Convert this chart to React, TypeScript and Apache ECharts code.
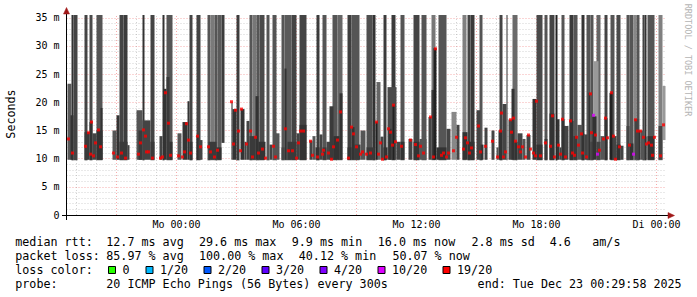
import React, { useEffect, useRef } from 'react';
import * as echarts from 'echarts';

// x values: minutes relative to Mo 00:00 (graph spans Sun 18:30 .. Tue 00:30)
const X_MIN = -330;
const X_MAX = 1470;
const Y_MAX = 35.5; // ms

const xLabelValues = [0, 360, 720, 1080, 1440];
const xLabelTexts = ['Mo 00:00', 'Mo 06:00', 'Mo 12:00', 'Mo 18:00', 'Di 00:00'];
const yLabelValues = [0, 5, 10, 15, 20, 25, 30, 35];
const yLabelTexts = ['0', '5 m', '10 m', '15 m', '20 m', '25 m', '30 m', '35 m'];

// smoke reaching the top of the graph: [start, end, low ms, shade]
const smokeTall: [number, number, number, string][] = [
  [-315, -309, 9.7, '#333333'], [-309, -297, 9.7, '#444444'], [-276, -267, 9.7, '#444444'],
  [-261, -252, 9.7, '#4a4a4a'], [-240, -222, 9.7, '#555555'], [-171, -159, 9.7, '#444444'],
  [-159, -147, 9.7, '#3c3c3c'], [-102, -96, 9.7, '#333333'], [-78, -66, 9.7, '#444444'],
  [-42, -36, 9.7, '#333333'], [-30, -12, 9.7, '#555555'], [39, 48, 9.7, '#444444'],
  [60, 72, 9.7, '#444444'], [93, 102, 9.7, '#555555'], [102, 114, 9.7, '#7a7a7a'],
  [114, 123, 9.7, '#555555'], [123, 135, 9.7, '#5a5a5a'], [135, 144, 12.8, '#3c3c3c'],
  [180, 189, 9.7, '#3c3c3c'], [219, 228, 9.7, '#555555'], [228, 240, 9.7, '#777777'],
  [240, 249, 9.7, '#555555'], [249, 264, 9.7, '#4a4a4a'], [270, 279, 9.7, '#555555'],
  [288, 300, 9.7, '#555555'], [315, 324, 9.7, '#555555'], [324, 345, 9.7, '#5a5a5a'],
  [345, 360, 9.7, '#444444'], [369, 390, 9.7, '#444444'], [420, 429, 9.7, '#3c3c3c'],
  [438, 450, 9.7, '#555555'], [468, 483, 9.7, '#555555'], [483, 498, 9.7, '#666666'],
  [513, 525, 9.7, '#3e3e3e'], [525, 549, 9.7, '#555555'], [570, 588, 9.7, '#505050'],
  [588, 597, 9.7, '#333333'], [621, 630, 9.7, '#3c3c3c'], [645, 657, 9.7, '#3a3a3a'],
  [672, 684, 9.7, '#555555'], [711, 729, 9.7, '#444444'], [735, 750, 9.7, '#555555'],
  [765, 777, 9.7, '#777777'], [786, 810, 9.7, '#555555'], [858, 870, 9.7, '#808080'],
  [873, 882, 9.7, '#444444'], [882, 894, 9.7, '#3a3a3a'], [909, 918, 9.7, '#555555'],
  [969, 978, 9.7, '#444444'], [990, 993, 9.7, '#333333'], [1008, 1023, 9.7, '#6a6a6a'],
  [1080, 1098, 9.7, '#4a4a4a'], [1104, 1113, 9.7, '#555555'], [1119, 1134, 9.7, '#444444'],
  [1137, 1143, 9.7, '#222222'], [1155, 1164, 9.7, '#555555'], [1179, 1191, 9.7, '#3a3a3a'],
  [1191, 1203, 9.7, '#555555'], [1215, 1224, 9.7, '#333333'], [1230, 1242, 9.7, '#555555'],
  [1242, 1251, 9.7, '#555555'], [1260, 1272, 9.7, '#666666'], [1284, 1293, 9.7, '#444444'],
  [1302, 1314, 9.7, '#555555'], [1320, 1332, 9.7, '#4a4a4a'], [1350, 1359, 9.7, '#555555'],
  [1359, 1371, 9.7, '#555555'], [1371, 1380, 9.7, '#888888'], [1380, 1389, 9.7, '#555555'],
  [1398, 1404, 9.7, '#444444'], [1404, 1410, 9.7, '#333333'], [1413, 1434, 9.7, '#555555'],
  [1446, 1458, 9.7, '#808080'],
];

// lower smoke: [start, end, low ms, high ms, shade]
const smokeLow: [number, number, number, number, string][] = [
  [-327, -315, 9.8, 23.3, '#5a5a5a'], [-318, -309, 9.8, 17.7, '#333333'], [-276, -261, 9.8, 14.7, '#3a3a3a'],
  [-261, -252, 9.8, 16.5, '#333333'], [-252, -240, 9.8, 14.5, '#444444'], [-240, -222, 9.8, 15.0, '#333333'],
  [-228, -222, 9.8, 19.0, '#333333'], [-192, -180, 9.8, 15.0, '#555555'], [-180, -171, 9.8, 17.7, '#333333'],
  [-171, -147, 9.8, 13.0, '#3a3a3a'], [-147, -141, 9.8, 12.4, '#444444'], [-120, -102, 9.8, 18.6, '#555555'],
  [-114, -102, 9.8, 15.0, '#3a3a3a'], [-102, -78, 9.8, 16.8, '#444444'], [-78, -66, 9.8, 13.0, '#3a3a3a'],
  [-51, -42, 9.8, 14.0, '#444444'], [-39, -30, 9.8, 22.4, '#333333'], [-30, -21, 9.8, 24.5, '#3a3a3a'],
  [-21, -12, 9.8, 13.0, '#333333'], [3, 15, 9.8, 14.5, '#555555'], [18, 33, 9.8, 16.5, '#333333'],
  [33, 39, 9.8, 20.2, '#333333'], [39, 48, 9.8, 13.0, '#333333'], [60, 66, 9.8, 14.0, '#333333'],
  [66, 78, 9.8, 13.3, '#444444'], [96, 120, 9.8, 13.0, '#3a3a3a'], [120, 135, 9.8, 12.0, '#333333'],
  [165, 168, 9.8, 20.0, '#222222'], [168, 180, 9.8, 18.8, '#333333'], [192, 204, 9.8, 18.8, '#333333'],
  [204, 210, 9.8, 13.0, '#444444'], [210, 219, 9.8, 16.7, '#444444'], [219, 237, 9.8, 14.0, '#3a3a3a'],
  [237, 246, 9.8, 21.1, '#333333'], [246, 267, 9.8, 13.0, '#333333'], [279, 288, 9.8, 12.5, '#444444'],
  [297, 309, 9.8, 14.5, '#555555'], [315, 324, 9.8, 12.0, '#444444'], [324, 330, 9.8, 26.0, '#333333'],
  [333, 360, 9.8, 13.0, '#3a3a3a'], [360, 369, 9.8, 14.5, '#444444'], [369, 390, 9.8, 16.0, '#333333'],
  [399, 408, 9.8, 13.2, '#444444'], [408, 417, 9.8, 14.0, '#555555'], [417, 429, 9.8, 12.0, '#333333'],
  [429, 438, 9.8, 14.3, '#444444'], [438, 450, 9.8, 12.0, '#3a3a3a'], [450, 462, 9.8, 13.0, '#444444'],
  [459, 471, 9.8, 19.3, '#3a3a3a'], [471, 489, 9.8, 14.0, '#333333'], [489, 498, 9.8, 21.6, '#333333'],
  [513, 525, 9.8, 12.0, '#333333'], [525, 534, 9.8, 15.6, '#333333'], [534, 552, 9.8, 12.5, '#3a3a3a'],
  [552, 567, 9.8, 15.0, '#555555'], [570, 594, 9.8, 12.0, '#3a3a3a'], [597, 603, 9.8, 16.5, '#222222'],
  [600, 612, 9.8, 23.6, '#666666'], [612, 621, 9.8, 13.9, '#444444'], [621, 633, 9.8, 12.0, '#333333'],
  [633, 660, 9.8, 22.7, '#4a4a4a'], [636, 645, 9.8, 15.3, '#333333'], [648, 654, 9.8, 19.5, '#222222'],
  [660, 672, 9.8, 13.0, '#444444'], [672, 684, 9.8, 13.0, '#333333'], [696, 708, 9.8, 13.5, '#444444'],
  [711, 729, 9.8, 13.0, '#333333'], [729, 750, 9.8, 13.5, '#555555'], [756, 765, 9.8, 17.4, '#444444'],
  [765, 774, 9.8, 22.2, '#3a3a3a'], [771, 780, 9.8, 29.6, '#222222'], [780, 810, 9.8, 12.0, '#333333'],
  [810, 822, 9.8, 15.3, '#444444'], [825, 840, 9.8, 18.3, '#888888'], [840, 849, 9.8, 16.0, '#444444'],
  [858, 873, 9.8, 14.7, '#333333'], [873, 894, 9.8, 13.0, '#333333'], [900, 912, 9.8, 18.6, '#444444'],
  [912, 921, 9.8, 12.5, '#333333'], [924, 933, 9.8, 15.5, '#444444'], [945, 954, 9.8, 15.0, '#444444'],
  [960, 966, 9.8, 12.0, '#555555'], [966, 978, 9.8, 15.0, '#333333'], [978, 990, 9.8, 19.7, '#444444'],
  [996, 1008, 9.8, 16.9, '#444444'], [1005, 1014, 9.8, 22.4, '#333333'], [1014, 1023, 9.8, 13.0, '#333333'],
  [1023, 1038, 9.8, 14.5, '#444444'], [1038, 1047, 9.8, 13.5, '#555555'], [1050, 1062, 9.8, 14.2, '#444444'],
  [1068, 1080, 9.8, 20.6, '#333333'], [1080, 1098, 9.8, 12.5, '#333333'], [1104, 1113, 9.8, 13.5, '#3a3a3a'],
  [1119, 1134, 9.8, 18.0, '#333333'], [1140, 1149, 9.8, 17.0, '#333333'], [1149, 1155, 9.8, 12.0, '#444444'],
  [1155, 1164, 9.8, 17.0, '#333333'], [1161, 1176, 9.8, 15.8, '#444444'], [1179, 1191, 9.8, 16.7, '#333333'],
  [1191, 1203, 9.8, 14.0, '#3a3a3a'], [1203, 1218, 9.8, 16.0, '#555555'], [1215, 1224, 9.8, 14.4, '#333333'],
  [1224, 1233, 9.8, 14.3, '#444444'], [1236, 1242, 9.8, 21.7, '#333333'], [1242, 1251, 9.8, 13.0, '#444444'],
  [1251, 1266, 12.0, 27.3, '#999999'], [1248, 1260, 9.8, 17.5, '#333333'], [1260, 1272, 9.8, 13.0, '#444444'],
  [1272, 1284, 9.8, 14.0, '#555555'], [1284, 1293, 9.8, 17.2, '#333333'], [1299, 1308, 9.8, 21.7, '#222222'],
  [1308, 1320, 9.8, 14.0, '#444444'], [1320, 1332, 9.8, 12.5, '#333333'], [1332, 1341, 9.8, 12.3, '#444444'],
  [1350, 1359, 9.8, 15.8, '#444444'], [1359, 1371, 9.8, 12.7, '#333333'], [1374, 1386, 9.8, 17.0, '#444444'],
  [1386, 1392, 9.8, 15.0, '#333333'], [1392, 1404, 9.8, 15.0, '#555555'], [1404, 1410, 9.8, 13.9, '#333333'],
  [1413, 1434, 9.8, 14.0, '#333333'], [1446, 1458, 9.8, 15.8, '#444444'], [1458, 1467, 13.3, 22.9, '#999999'],
];

// median rtt per step, loss 19/20 (red): [minute, ms]
const medianRed: [number, number][] = [
  [-324, 13.5], [-312, 11.0], [-273, 12.2], [-264, 14.6], [-258, 10.8], [-255, 16.5], [-249, 10.5],
  [-243, 12.8], [-234, 15.1], [-228, 12.1], [-189, 11.0], [-177, 10.3], [-165, 11.0], [-153, 10.1],
  [-114, 10.8], [-108, 12.8], [-99, 15.1], [-93, 14.0], [-90, 11.2], [-84, 11.2], [-72, 10.1],
  [-48, 10.1], [-42, 10.3], [-33, 21.7], [-24, 16.3], [-18, 10.6], [6, 10.5], [18, 10.3], [24, 11.2],
  [30, 16.2], [36, 13.3], [42, 11.0], [63, 14.0], [72, 12.1], [96, 12.1], [102, 11.2], [114, 10.3],
  [123, 11.5], [165, 20.1], [171, 12.6], [177, 18.6], [186, 14.9], [192, 11.4], [195, 18.8],
  [210, 12.6], [222, 14.9], [228, 10.3], [237, 13.8], [246, 11.0], [258, 11.7], [267, 10.1],
  [291, 12.2], [297, 10.3], [327, 15.3], [336, 11.4], [348, 11.4], [360, 10.1], [366, 12.8],
  [372, 14.9], [381, 14.9], [402, 13.1], [408, 10.6], [423, 10.3], [438, 10.8], [441, 11.5],
  [456, 11.0], [465, 9.9], [471, 12.1], [483, 13.3], [492, 18.3], [516, 10.1], [525, 15.6],
  [531, 14.4], [540, 12.1], [552, 10.8], [558, 11.2], [570, 10.8], [582, 11.0], [600, 16.5],
  [606, 10.8], [612, 12.8], [618, 9.9], [630, 10.3], [636, 15.3], [642, 14.7], [648, 12.4],
  [651, 19.5], [657, 13.0], [675, 12.2], [702, 13.3], [717, 12.5], [726, 10.5], [732, 12.2],
  [741, 11.0], [762, 17.4], [771, 10.3], [777, 29.5], [795, 10.6], [801, 11.0], [810, 10.3],
  [816, 11.0], [831, 11.4], [840, 13.8], [861, 11.7], [867, 13.7], [873, 12.8], [879, 11.0],
  [885, 11.9], [906, 15.8], [912, 11.2], [927, 12.2], [948, 13.1], [963, 10.3], [972, 14.9],
  [975, 18.1], [981, 10.3], [987, 11.2], [1002, 16.9], [1005, 14.7], [1011, 17.2], [1017, 13.1],
  [1026, 12.1], [1032, 11.2], [1038, 12.1], [1047, 10.3], [1056, 14.2], [1062, 11.7], [1071, 11.0],
  [1077, 10.5], [1080, 20.2], [1092, 10.5], [1107, 12.8], [1122, 12.2], [1128, 17.6], [1134, 10.3],
  [1146, 12.4], [1152, 10.8], [1158, 17.0], [1167, 10.3], [1182, 16.7], [1188, 11.0], [1194, 10.6],
  [1200, 13.8], [1206, 12.4], [1215, 14.4], [1218, 11.0], [1230, 10.3], [1242, 21.5], [1245, 14.6],
  [1257, 14.2], [1269, 11.5], [1281, 13.5], [1287, 17.2], [1293, 13.7], [1305, 21.7], [1311, 14.0],
  [1317, 9.9], [1329, 12.1], [1359, 12.4], [1377, 16.9], [1383, 14.9], [1392, 14.9], [1401, 13.8],
  [1410, 12.6], [1416, 12.8], [1425, 12.4], [1428, 10.6], [1434, 13.8], [1452, 10.5], [1461, 16.0],
];
// median rtt with loss 10/20 (magenta)
const medianMagenta: [number, number][] = [[1251, 17.7], [1263, 10.8], [1371, 10.8]];

const lossLabels = ['0', '1/20', '2/20', '3/20', '4/20', '10/20', '19/20'];
const lossColors = ['#26ff00', '#00b8ff', '#0059ff', '#5e00ff', '#7e00ff', '#dd00ff', '#ff0000'];

const rttLine = ['median rtt:', '12.7 ms avg', '29.6 ms max', '9.9 ms min', '16.0 ms now', '2.8 ms sd', '4.6', 'am/s'];
const lossLine = ['packet loss:', '85.97 % avg', '100.00 % max', '40.12 % min', '50.07 % now'];
const probeLine = ['probe:', '20 ICMP Echo Pings (56 Bytes) every 300s', 'end: Tue Dec 23 00:29:58 2025'];

const MONO = "'DejaVu Sans Mono', monospace";
const LEG_FONT = 11.7;

function brightness(c: string) {
  return parseInt(c.slice(1, 3), 16);
}

function buildOption() {
  const lowSorted = [...smokeLow].sort((a, b) => brightness(b[4]) - brightness(a[4]));
  const smokeData: number[][] = [];
  const smokeShades: string[] = [];
  smokeTall.forEach((b) => {
    smokeData.push([b[0], b[1], b[2], Y_MAX]);
    smokeShades.push(b[3]);
  });
  lowSorted.forEach((b) => {
    smokeData.push([b[0], b[1], b[2], b[3]]);
    smokeShades.push(b[4]);
  });

  const major = { color: 'rgba(235,60,60,0.42)', width: 1, type: [1, 2] as any };
  const minor = { color: 'rgba(150,150,150,0.42)', width: 1, type: [1, 2] as any };
  const gridData: any[] = [];
  for (let m = -300; m <= 1440; m += 60) {
    gridData.push({ xAxis: m, lineStyle: m % 180 === 0 ? major : minor });
  }
  for (let v = 1; v <= 35; v++) {
    gridData.push({ yAxis: v, lineStyle: v % 5 === 0 ? major : minor });
  }

  const txt = (text: string, x: number, y: number, extra: any = {}) => ({
    type: 'text',
    x,
    y,
    silent: true,
    style: {
      text,
      fontFamily: MONO,
      fontSize: LEG_FONT,
      fill: '#000',
      align: 'left',
      verticalAlign: 'middle',
      textAlign: 'left',
      textVerticalAlign: 'middle',
      ...extra,
    },
  });

  const rttX = [15.3, 106.3, 199, 291.8, 377.8, 471.5, 549.8, 592.3];
  const lossX = [15.3, 106.3, 199, 298.8, 392.4];
  const probeX = [15.3, 106.3, 477.6];
  const boxX = [108, 145.5, 203.5, 261.5, 319.5, 377.5, 442.5];

  const graphics: any[] = [];
  rttLine.forEach((t, i) => graphics.push(txt(t, rttX[i], 241.6)));
  lossLine.forEach((t, i) => graphics.push(txt(t, lossX[i], 255.6)));
  graphics.push(txt('loss color:', 15.3, 269.6));
  lossLabels.forEach((t, i) => {
    graphics.push({
      type: 'rect',
      silent: true,
      shape: { x: boxX[i] + 0.5, y: 266.5, width: 7, height: 7 },
      style: { fill: lossColors[i], stroke: '#000', lineWidth: 1 },
    });
    graphics.push(txt(t, boxX[i] + 14.5, 269.6));
  });
  probeLine.forEach((t, i) => graphics.push(txt(t, probeX[i], 283.5)));

  graphics.push({
    ...txt('Seconds', 11, 114, { align: 'center', textAlign: 'center' }),
    rotation: Math.PI / 2,
  });
  graphics.push({
    type: 'text',
    x: 687.5,
    y: 60,
    rotation: -Math.PI / 2,
    silent: true,
    style: {
      text: 'RRDTOOL / TOBI OETIKER',
      fontFamily: MONO,
      fontSize: 8.5,
      fill: '#b4b4b4',
      align: 'center',
      verticalAlign: 'middle',
      textAlign: 'center',
      textVerticalAlign: 'middle',
    },
  });
  // axis extensions and arrow heads
  graphics.push({ type: 'line', silent: true, z: 10, shape: { x1: 62, y1: 215.5, x2: 669, y2: 215.5 }, style: { stroke: '#000', lineWidth: 1 } });
  graphics.push({ type: 'line', silent: true, z: 10, shape: { x1: 66.5, y1: 220, x2: 66.5, y2: 12 }, style: { stroke: '#000', lineWidth: 1 } });
  graphics.push({ type: 'polygon', silent: true, z: 11, shape: { points: [[63.5, 14], [69.5, 14], [66.5, 7.5]] }, style: { fill: '#a01818', stroke: '#a01818', lineWidth: 0.5 } });
  graphics.push({ type: 'polygon', silent: true, z: 11, shape: { points: [[668, 212.5], [668, 218.5], [674.5, 215.5]] }, style: { fill: '#a01818', stroke: '#a01818', lineWidth: 0.5 } });

  return {
    animation: false,
    backgroundColor: '#ffffff',
    grid: { left: 66.5, top: 15, width: 600, height: 200, containLabel: false },
    xAxis: {
      type: 'value',
      min: X_MIN,
      max: X_MAX,
      axisLine: { show: true, onZero: false, lineStyle: { color: '#000', width: 1 } },
      axisTick: { show: false },
      splitLine: { show: false },
      axisLabel: {
        customValues: xLabelValues,
        formatter: (v: number) => {
          const i = xLabelValues.indexOf(v);
          return i >= 0 ? xLabelTexts[i] : '';
        },
        margin: 4,
        color: '#000',
        fontFamily: MONO,
        fontSize: 10,
      },
    },
    yAxis: {
      type: 'value',
      min: 0,
      max: Y_MAX,
      interval: 5,
      axisLine: { show: true, onZero: false, lineStyle: { color: '#000', width: 1 } },
      axisTick: { show: false },
      splitLine: { show: false },
      axisLabel: {
        formatter: (v: number) => {
          const i = yLabelValues.indexOf(v);
          return i >= 0 ? yLabelTexts[i] : '';
        },
        margin: 7,
        color: '#000',
        fontFamily: MONO,
        fontSize: 10,
      },
    },
    graphic: { elements: graphics },
    series: [
      {
        type: 'custom',
        name: 'smoke',
        z: 2,
        silent: true,
        data: smokeData,
        encode: { x: [0, 1], y: [2, 3] },
        renderItem: (params: any, api: any) => {
          const p0 = api.coord([api.value(0), api.value(3)]);
          const p1 = api.coord([api.value(1), api.value(2)]);
          return {
            type: 'rect',
            shape: { x: p0[0], y: p0[1], width: p1[0] - p0[0], height: p1[1] - p0[1] },
            style: { fill: smokeShades[params.dataIndex] },
          };
        },
        markLine: {
          silent: true,
          z: 1,
          symbol: ['none', 'none'],
          label: { show: false },
          emphasis: { disabled: true },
          animation: false,
          data: gridData,
        },
      },
      {
        type: 'scatter',
        name: 'median 19/20',
        z: 4,
        silent: true,
        symbol: 'rect',
        symbolSize: [3, 3],
        itemStyle: { color: '#ff0000' },
        data: medianRed,
      },
      {
        type: 'scatter',
        name: 'median 10/20',
        z: 4,
        silent: true,
        symbol: 'rect',
        symbolSize: [3, 3],
        itemStyle: { color: '#dd00ff' },
        data: medianMagenta,
      },
    ],
  };
}

export default function App() {
  const ref = useRef<HTMLDivElement>(null);
  useEffect(() => {
    if (!ref.current) return;
    const chart = echarts.init(ref.current, null, { renderer: 'svg' });
    chart.setOption(buildOption() as any);
    return () => chart.dispose();
  }, []);
  return (
    <div
      ref={ref}
      style={{ position: 'absolute', left: 0, top: 0, width: 697, height: 297, background: '#fff' }}
    />
  );
}
